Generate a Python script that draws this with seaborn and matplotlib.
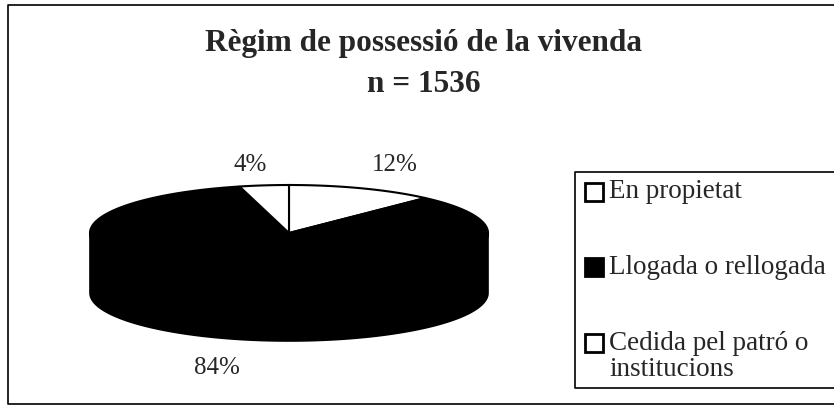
import numpy as np
import matplotlib
matplotlib.use("Agg")
import matplotlib.pyplot as plt
import seaborn as sns
from matplotlib.patches import Polygon, Rectangle

# ---- data ----
categories = ["En propietat", "Llogada o rellogada", "Cedida pel patró o\ninstitucions"]
values = [12, 84, 4]
pct_labels = ["12%", "84%", "4%"]
title_lines = ["Règim de possessió de la vivenda", "n = 1536"]

sns.set_theme(style="white")
plt.rcParams['font.family'] = ['Liberation Serif', 'DejaVu Serif']

colors = ["white", "black", "white"]

W, H = 834, 407
fig = plt.figure(figsize=(W / 100, H / 100), dpi=100)
ax = fig.add_axes([0, 0, 1, 1])
ax.set_xlim(0, W)
ax.set_ylim(H, 0)
ax.axis("off")

# pie geometry (pixel-like coordinates)
cx, cy, a, b, depth = 289, 233, 199, 48, 60

def ell(theta_deg, dy=0.0):
    t = np.radians(theta_deg)
    return cx + a * np.cos(t), cy - b * np.sin(t) + dy

total = float(sum(values))
starts, ends = [], []
ang = 90.0
for v in values:
    span = 360.0 * v / total
    starts.append(ang)
    ends.append(ang - span)
    ang -= span

# side walls (front half: angles 180..360)
for v, s, e, c in zip(values, starts, ends, colors):
    lo, hi = min(s, e), max(s, e)
    for shift in (-360, 0, 360):
        l2, h2 = max(lo + shift, 180), min(hi + shift, 360)
        if h2 > l2:
            th = np.linspace(l2, h2, 100)
            x1, y1 = ell(th)
            x2, y2 = ell(th[::-1], depth)
            pts = np.column_stack([np.concatenate([x1, x2]), np.concatenate([y1, y2])])
            ax.add_patch(Polygon(pts, closed=True, facecolor=c, edgecolor="black", lw=1.2, zorder=2))

# top faces
for v, s, e, c in zip(values, starts, ends, colors):
    th = np.linspace(s, e, 200)
    xs, ys = ell(th)
    pts = np.column_stack([np.concatenate([[cx], xs]), np.concatenate([[cy], ys])])
    ax.add_patch(Polygon(pts, closed=True, facecolor=c, edgecolor="black", lw=1.5, zorder=3))

# percentage labels
lab_pos = [(395, 165), (217, 368), (250, 165)]
for (lx, ly), t in zip(lab_pos, pct_labels):
    ax.text(lx, ly, t, ha="center", va="center", fontsize=18, zorder=5)

# title
ax.text(424, 44, title_lines[0], ha="center", va="center", fontsize=22.5, fontweight="bold")
ax.text(424, 84, title_lines[1], ha="center", va="center", fontsize=22.5, fontweight="bold")

# outer border
ax.plot([W + 5, 8, 8, W + 5], [5, 5, 404, 404], color="black", lw=1.2, clip_on=False)

# legend box
lx0, ly0, ly1 = 575, 172, 388
ax.plot([W + 5, lx0, lx0, W + 5], [ly0, ly0, ly1, ly1], color="black", lw=1.2)
rows_y = [192, 267, 343]
for cat, c, yy in zip(categories, colors, rows_y):
    ax.add_patch(Rectangle((585, yy - 9), 18, 18, facecolor=c, edgecolor="black", lw=2, zorder=4))
    lines = cat.split("\n")
    for k, ln in enumerate(lines):
        ax.text(609, yy + 26 * k, ln, ha="left", va="center", fontsize=19.5)

fig.savefig("out.png", dpi=100)
